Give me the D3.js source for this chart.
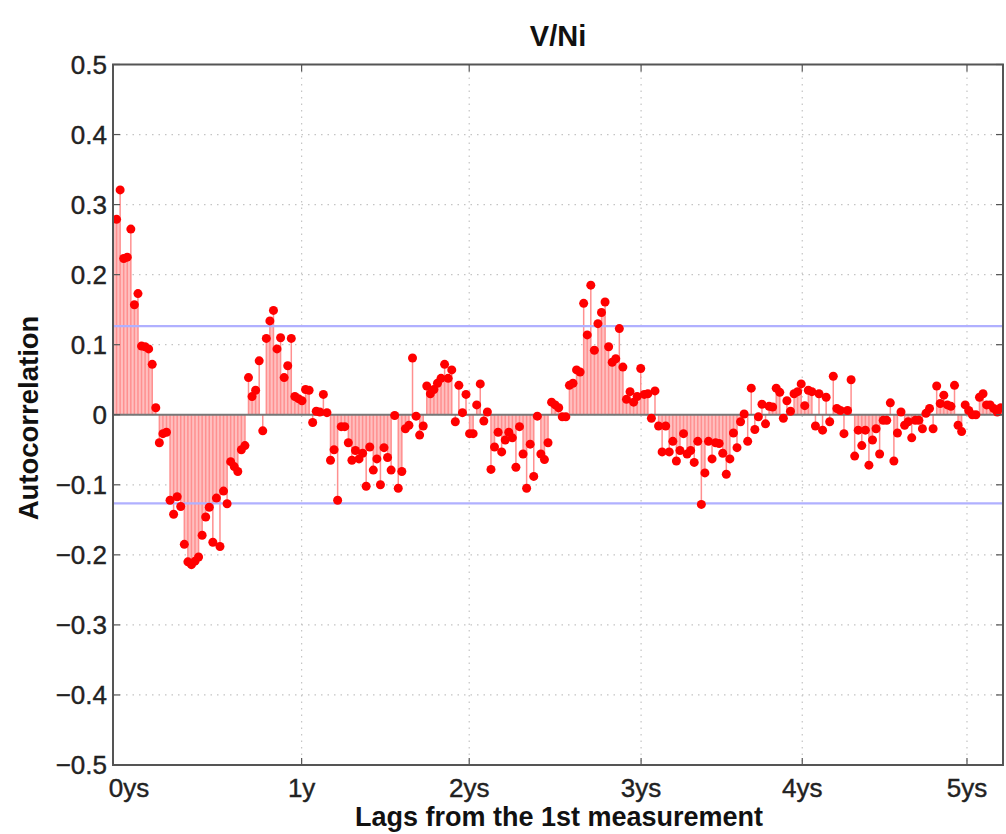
<!DOCTYPE html>
<html><head><meta charset="utf-8">
<script src="https://cdn.jsdelivr.net/npm/d3@7"></script>
<style>
body{margin:0;background:#fff}
text{font-family:"Liberation Sans",Arial,Helvetica,sans-serif}
</style>
</head><body>
<svg id="chart" width="1006" height="834"></svg>
<script>
const title = "V/Ni";
const xLabel = "Lags from the 1st measurement";
const yLabel = "Autocorrelation";
// autocorrelation at lag 0,1,2,...
const acf = [
 1.0, 0.279, 0.321, 0.223, 0.225, 0.265, 0.157, 0.173, 0.098, 0.097,
 0.094, 0.072, 0.010, -0.040, -0.027, -0.025, -0.122, -0.142, -0.117, -0.131,
 -0.185, -0.210, -0.214, -0.209, -0.203, -0.172, -0.146, -0.132, -0.182, -0.119,
 -0.188, -0.109, -0.127, -0.067, -0.074, -0.081, -0.050, -0.044, 0.053, 0.026,
 0.035, 0.077, -0.023, 0.109, 0.134, 0.149, 0.094, 0.110, 0.053, 0.070,
 0.109, 0.026, 0.023, 0.020, 0.036, 0.035, -0.011, 0.005, 0.004, 0.029,
 0.003, -0.065, -0.050, -0.122, -0.017, -0.017, -0.040, -0.065, -0.051, -0.063,
 -0.055, -0.102, -0.046, -0.079, -0.063, -0.100, -0.047, -0.061, -0.079, -0.001,
 -0.105, -0.081, -0.020, -0.015, 0.081, -0.002, -0.029, -0.016, 0.041, 0.030,
 0.036, 0.045, 0.052, 0.072, 0.052, 0.064, -0.010, 0.042, 0.003, 0.029,
 -0.027, -0.027, 0.014, 0.044, -0.009, 0.004, -0.078, -0.046, -0.025, -0.053,
 -0.036, -0.025, -0.033, -0.075, -0.017, -0.056, -0.105, -0.042, -0.088, -0.002,
 -0.056, -0.064, -0.040, 0.018, 0.014, 0.010, -0.003, -0.003, 0.042, 0.045,
 0.064, 0.061, 0.159, 0.114, 0.185, 0.092, 0.130, 0.146, 0.161, 0.097,
 0.075, 0.080, 0.123, 0.068, 0.022, 0.033, 0.018, 0.026, 0.066, 0.029,
 0.030, -0.005, 0.034, -0.016, -0.053, -0.016, -0.053, -0.038, -0.066, -0.051,
 -0.027, -0.056, -0.051, -0.068, -0.038, -0.128, -0.083, -0.038, -0.063, -0.040,
 -0.041, -0.055, -0.085, -0.063, -0.026, -0.047, -0.010, 0.001, -0.038, 0.038,
 -0.021, -0.003, 0.015, -0.013, 0.012, 0.011, 0.038, 0.032, -0.005, 0.020,
 0.005, 0.030, 0.033, 0.044, 0.013, 0.035, 0.033, -0.016, 0.030, -0.022,
 0.025, -0.010, 0.055, 0.009, 0.006, -0.027, 0.006, 0.050, -0.059, -0.022,
 -0.044, -0.022, -0.072, -0.036, -0.020, -0.056, -0.008, -0.008, 0.017, -0.066,
 -0.026, 0.004, -0.015, -0.010, -0.033, -0.008, -0.008, -0.020, 0.002, 0.009,
 -0.020, 0.041, 0.016, 0.028, 0.014, 0.012, 0.042, -0.015, -0.024, 0.014,
 0.006, 0.000, 0.000, 0.025, 0.030, 0.014, 0.014, 0.009, 0.004, 0.010
];
const xTickValues = [0, 52.9, 99.9, 148.1, 193.3, 239.5];
const xTickLabels = ["0ys", "1y", "2ys", "3ys", "4ys", "5ys"];
const yTickValues = [-0.5, -0.4, -0.3, -0.2, -0.1, 0, 0.1, 0.2, 0.3, 0.4, 0.5];
const yTickLabels = ["\u22120.5", "\u22120.4", "\u22120.3", "\u22120.2", "\u22120.1", "0", "0.1", "0.2", "0.3", "0.4", "0.5"];
const confBounds = [0.1265, -0.1265];
const xDomain = [0, 249.6];
const yDomain = [-0.5, 0.5];

const L = 113, R = 1003, T = 64.5, B = 765;
const svg = d3.select("#chart");
const x = d3.scaleLinear().domain(xDomain).range([L, R]);
const y = d3.scaleLinear().domain(yDomain).range([B, T]);

svg.append("rect").attr("width", 1006).attr("height", 834).attr("fill", "#fff");
svg.append("defs").append("clipPath").attr("id", "clip")
  .append("rect").attr("x", L).attr("y", T).attr("width", R - L).attr("height", B - T);

// grid
const grid = svg.append("g").attr("stroke", "#c4c4c4").attr("stroke-width", 1.2).attr("stroke-dasharray", "1.5,5");
grid.selectAll("line.gx").data(xTickValues.slice(1)).join("line")
  .attr("x1", d => x(d)).attr("x2", d => x(d)).attr("y1", T).attr("y2", B);
grid.selectAll("line.gy").data(yTickValues.slice(1, -1)).join("line")
  .attr("x1", L).attr("x2", R).attr("y1", d => y(d)).attr("y2", d => y(d));

const plot = svg.append("g").attr("clip-path", "url(#clip)");
// fill between neighbouring stems
const pairs = d3.range(acf.length - 1).map(i => [i, acf[i], acf[i + 1]])
  .filter(p => p[1] * p[2] > 0);
plot.selectAll("rect.fill").data(pairs).join("rect")
  .attr("x", p => x(p[0])).attr("width", p => x(p[0] + 1) - x(p[0]) + 0.3)
  .attr("y", p => {const m = Math.sign(p[1]) * Math.min(Math.abs(p[1]), Math.abs(p[2])); return Math.min(y(m), y(0));})
  .attr("height", p => {const m = Math.min(Math.abs(p[1]), Math.abs(p[2])); return Math.abs(y(m) - y(0));})
  .attr("fill", "#ffbfbf");
// stems
plot.selectAll("line.stem").data(acf).join("line")
  .attr("x1", (d, i) => x(i)).attr("x2", (d, i) => x(i))
  .attr("y1", y(0)).attr("y2", d => y(d))
  .attr("stroke", "#ff9090").attr("stroke-width", 1.5);

// zero line
svg.append("line").attr("x1", L).attr("x2", R).attr("y1", y(0)).attr("y2", y(0))
  .attr("stroke", "#777").attr("stroke-width", 2);
// confidence bounds
svg.selectAll("line.conf").data(confBounds).join("line")
  .attr("x1", L).attr("x2", R).attr("y1", d => y(d)).attr("y2", d => y(d))
  .attr("stroke", "#b0b0ff").attr("stroke-width", 2.2);

// markers (on top of reference lines)
const marks = svg.append("g").attr("clip-path", "url(#clip)");
marks.selectAll("circle.pt").data(acf).join("circle")
  .attr("cx", (d, i) => x(i)).attr("cy", d => y(d)).attr("r", 4.5)
  .attr("fill", "#ff0000");

// box & ticks
const ax = svg.append("g").attr("stroke", "#555").attr("stroke-width", 2).attr("fill", "none");
ax.append("rect").attr("x", L).attr("y", T).attr("width", R - L).attr("height", B - T);
const tk = 7;
xTickValues.forEach(v => {
  ax.append("line").attr("x1", x(v)).attr("x2", x(v)).attr("y1", B).attr("y2", B - tk).attr("stroke-width", 1.2);
  ax.append("line").attr("x1", x(v)).attr("x2", x(v)).attr("y1", T).attr("y2", T + tk).attr("stroke-width", 1.2);
});
yTickValues.forEach(v => {
  ax.append("line").attr("x1", L).attr("x2", L + tk).attr("y1", y(v)).attr("y2", y(v)).attr("stroke-width", 1.2);
  ax.append("line").attr("x1", R).attr("x2", R - tk).attr("y1", y(v)).attr("y2", y(v)).attr("stroke-width", 1.2);
});

// tick labels
svg.selectAll("text.yt").data(yTickValues).join("text")
  .attr("x", L - 6).attr("y", d => y(d)).attr("dy", "0.36em")
  .attr("text-anchor", "end").attr("font-size", 26).attr("fill", "#222")
  .attr("stroke", "#222").attr("stroke-width", 0.4)
  .text((d, i) => yTickLabels[i]);
svg.selectAll("text.xt").data(xTickValues).join("text")
  .attr("x", (d, i) => i === 0 ? x(d) + 16 : x(d)).attr("y", B + 32)
  .attr("text-anchor", "middle").attr("font-size", 26).attr("fill", "#222")
  .attr("stroke", "#222").attr("stroke-width", 0.4)
  .text((d, i) => xTickLabels[i]);

svg.append("text").attr("x", 558).attr("y", 46).attr("text-anchor", "middle")
  .attr("font-size", 29).attr("font-weight", "bold").attr("fill", "#111").text(title);
svg.append("text").attr("x", 559).attr("y", 826).attr("text-anchor", "middle")
  .attr("font-size", 27).attr("font-weight", "bold").attr("fill", "#111").text(xLabel);
svg.append("text").attr("transform", "translate(38,418) rotate(-90)").attr("text-anchor", "middle")
  .attr("font-size", 27.5).attr("font-weight", "bold").attr("fill", "#111").text(yLabel);
</script>
</body></html>
